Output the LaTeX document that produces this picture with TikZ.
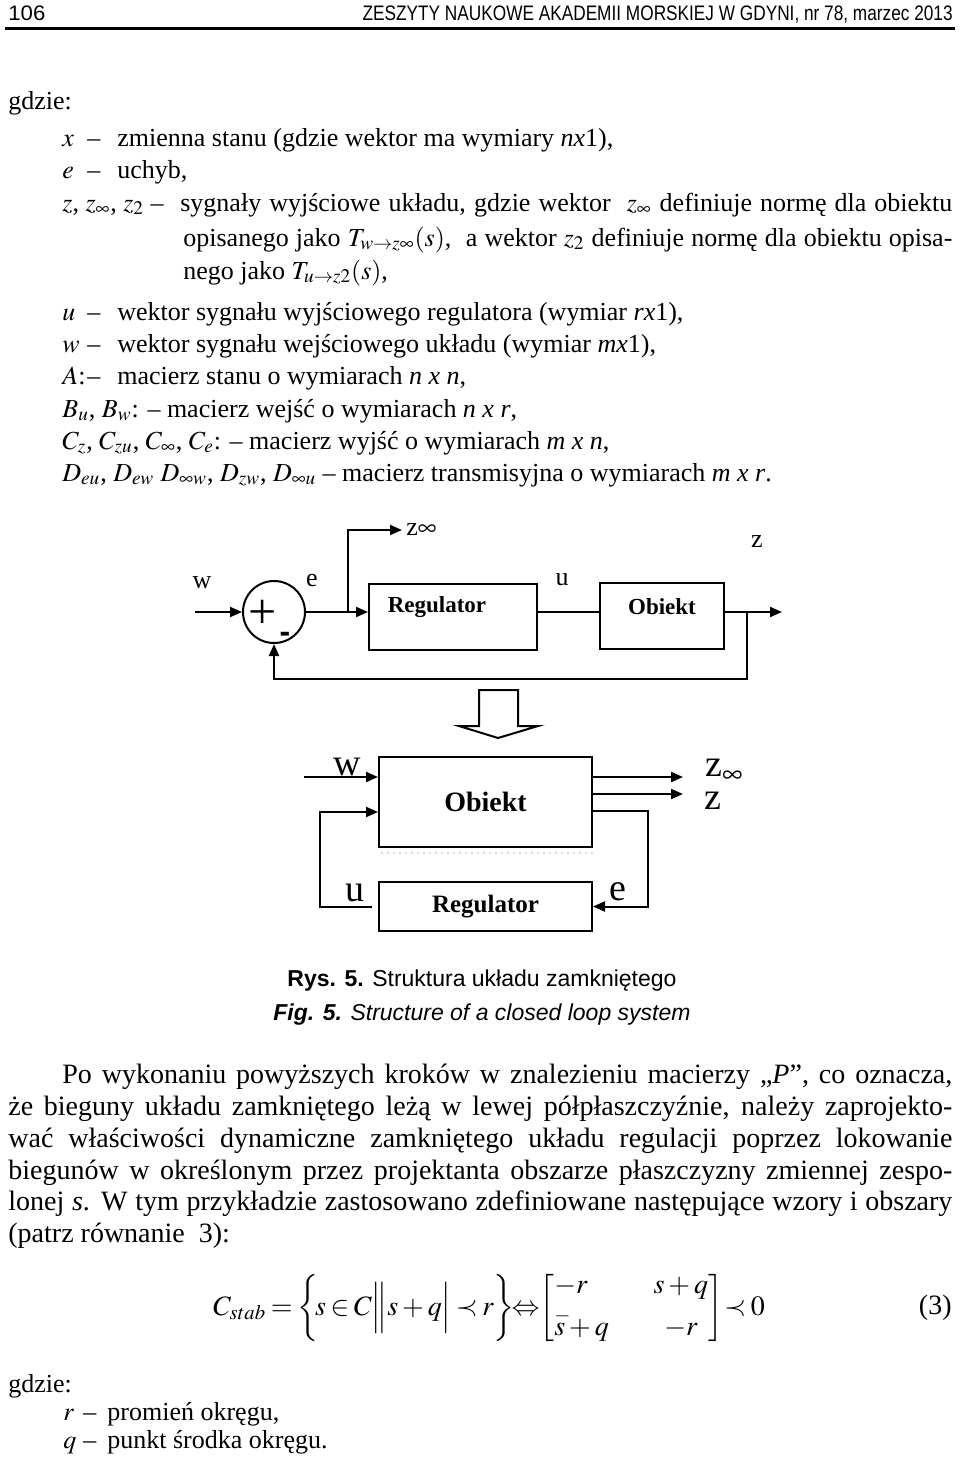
\documentclass[tikz,border=0pt]{standalone}
\usepackage{amsmath}
\usepackage{mathptmx}
\usepackage{fontspec}
\setmainfont{Liberation Serif}
\setsansfont{Liberation Sans}
\newfontfamily\hdrfont{Liberation Sans}
\usepackage{graphicx}
\usetikzlibrary{arrows.meta}

\newcommand\listsize{\fontsize{13}{15}\selectfont}
\newcommand\bodysize{\fontsize{14}{16}\selectfont}
\newcommand\itemlab[2]{\makebox[12.5pt][l]{#1}\makebox[15pt][l]{–}#2}
\newcommand\shortlab[2]{\makebox[10pt][l]{#1}\makebox[12pt][l]{–}#2}

\begin{document}
\begin{tikzpicture}[x=0.5pt,y=-0.5pt,
  block/.style={draw,line width=1pt,inner sep=0pt,font=\bfseries\fontsize{14}{16}\selectfont},
  sum node/.style={circle,draw,line width=1pt,minimum size=31pt,inner sep=0pt},
  sigarrow/.style={line width=1pt,-{Triangle[length=6pt,width=5pt]}},
  wire/.style={line width=1pt},
  sig label/.style={inner sep=0pt,font=\fontsize{13}{15}\selectfont},
  big label/.style={inner sep=0pt,font=\fontsize{19}{21}\selectfont},
  box text/.style={inner sep=0pt,font=\bfseries\fontsize{11.5}{13}\selectfont},
  list line/.style={anchor=base west,inner sep=0pt,font=\listsize},
  body line/.style={anchor=base west,inner sep=0pt,font=\bodysize},
  caption line/.style={anchor=base,inner sep=0pt,font=\sffamily\fontsize{11.5}{13}\selectfont}]

  \useasboundingbox (0,0) rectangle (960,1457);

  % header
  \node[anchor=base west,inner sep=0pt] (pagenum) at (8,20)
    {\resizebox{18.5pt}{\height}{\hdrfont\fontsize{10.5}{12}\selectfont 106}};
  \node[anchor=base east,inner sep=0pt] (journal) at (953,20)
    {\resizebox{295pt}{\height}{\hdrfont\fontsize{10.5}{12}\selectfont ZESZYTY NAUKOWE AKADEMII MORSKIEJ W GDYNI, nr 78, marzec 2013}};
  \draw[line width=1.5pt] (5,28) -- (955,28);

  % list of symbols
  \node[list line] (gdzie) at (8,109) {gdzie:};
  \node[list line] (defx) at (62,146) {\itemlab{$x$}{zmienna stanu (gdzie wektor ma wymiary \textit{nx}1),}};
  \node[list line] (defe) at (62,178) {\itemlab{$e$}{uchyb,}};
  \node[list line] (defz) at (62,211) {\makebox[59pt][l]{$z$, $z_{\infty}$, $z_2$ –}\makebox[386pt][s]{sygnały wyjściowe układu, gdzie wektor \ $z_{\infty}$ definiuje normę dla obiektu}};
  \node[list line] (defz2) at (183,246) {\makebox[384.5pt][s]{opisanego jako $T_{w\rightarrow z\infty}(s)$, \ a wektor $z_2$ definiuje normę dla obiektu opisa-}};
  \node[list line] (defz3) at (183,279) {nego jako $T_{u\rightarrow z2}(s)$,};
  \node[list line] (defu) at (62,320) {\itemlab{$u$}{wektor sygnału wyjściowego regulatora (wymiar \textit{rx}1),}};
  \node[list line] (defw) at (62,352) {\itemlab{$w$}{wektor sygnału wejściowego układu (wymiar \textit{mx}1),}};
  \node[list line] (defA) at (62,384) {\itemlab{$A$:}{macierz stanu o wymiarach \textit{n x n},}};
  \node[list line] (defB) at (62,417) {$B_u$, $B_w$: – macierz wejść o wymiarach \textit{n x r},};
  \node[list line] (defC) at (62,449) {$C_z$, $C_{zu}$, $C_{\infty}$, $C_e$: – macierz wyjść o wymiarach \textit{m x n},};
  \node[list line] (defD) at (62,481) {$D_{eu}$, $D_{ew}$ $D_{\infty w}$, $D_{zw}$, $D_{\infty u}$ – macierz transmisyjna o wymiarach \textit{m x r}.};

  % closed loop
  \node[sum node] (sum) at (274,612) {};
  \node[inner sep=0pt,font=\fontsize{25}{25}\selectfont] (plus) at (263,614) {+};
  \node[inner sep=0pt,font=\sffamily\bfseries\fontsize{16}{16}\selectfont] (minus) at (285,637) {-};
  \node[block,minimum width=84pt,minimum height=33pt] (reg) at (453,617) {};
  \node[box text] (regtxt) at (437,607) {Regulator};
  \node[block,minimum width=62pt,minimum height=33pt] (obj) at (662,616) {};
  \node[box text] (objtxt) at (662,607) {Obiekt};
  \coordinate (win) at (195,612);
  \coordinate (zbr) at (348,530);
  \coordinate (zout) at (782,612);
  \coordinate (fb) at (747,679);
  \node[sig label,anchor=west] (zinf) at (406,530) {z$\infty$};
  \node[sig label] (wlab) at (202,583) {w};
  \node[sig label] (elab) at (312,580) {e};
  \node[sig label] (ulab) at (562,580) {u};
  \node[sig label] (zlab) at (757,542) {z};

  \draw[sigarrow] (win) -- (sum.west);
  \draw[sigarrow] (sum.east) -- (sum.east -| reg.west);
  \draw[sigarrow] (sum.east -| zbr) |- ([xshift=-2pt]zinf.west);
  \draw[wire] (reg.east |- sum.east) -- (obj.west |- sum.east);
  \draw[sigarrow] (obj.east |- sum.east) -- (zout);
  \draw[sigarrow] (fb |- sum.east) -- (fb) -| (sum.south);

  % hollow arrow
  \draw[line width=1pt] (479,690) -- (479,726) -- (459,726) -- (498,738)
    -- (538,726) -- (518,726) -- (518,690) -- cycle;

  % equivalent structure
  \node[block,minimum width=106.5pt,minimum height=45pt] (obj2) at (485.5,802) {Obiekt};
  \node[block,minimum width=106.5pt,minimum height=24.5pt,font=\bfseries\fontsize{12.5}{14}\selectfont] (reg2) at (485.5,906.5) {Regulator};
  \draw[gray!30,dotted,line width=1pt] (381,853) -- (595,853);
  \coordinate (w2) at (304,777);
  \coordinate (ucor) at (320,812);
  \coordinate (zinf2) at (683,777);
  \coordinate (z2) at (683,794);
  \coordinate (ecor) at (648,811);
  \node[big label] (wlab2) at (347,767) {w};
  \node[big label] (ulab2) at (355,893) {u};
  \node[big label,anchor=west] (zinflab2) at (705,771) {z$_{\infty}$};
  \node[big label] (zlab2) at (713,801) {z};
  \node[big label] (elab2) at (618,892) {e};

  \draw[sigarrow] (w2) -- (w2 -| obj2.west);
  \draw[sigarrow] ([xshift=-3pt]reg2.west) -| (ucor) -- (ucor -| obj2.west);
  \draw[sigarrow] (zinf2 -| obj2.east) -- (zinf2);
  \draw[sigarrow] (z2 -| obj2.east) -- (z2);
  \draw[sigarrow] (ecor -| obj2.east) -- (ecor) |- (reg2.east);

  % caption
  \node[caption line] (rys) at (482,986) {\textbf{Rys. 5.} Struktura układu zamkniętego};
  \node[caption line] (fig) at (482,1020) {\textbf{\textit{Fig. 5.}} \textit{Structure of a closed loop system}};

  % paragraph
  \node[body line] (par1) at (62,1083) {\makebox[445pt][s]{Po wykonaniu powyższych kroków w znalezieniu macierzy „\textit{P}”, co oznacza,}};
  \node[body line] (par2) at (8,1115) {\makebox[472pt][s]{że bieguny układu zamkniętego leżą w lewej półpłaszczyźnie, należy zaprojekto-}};
  \node[body line] (par3) at (8,1147) {\makebox[472pt][s]{wać właściwości dynamiczne zamkniętego układu regulacji poprzez lokowanie}};
  \node[body line] (par4) at (8,1179) {\makebox[472pt][s]{biegunów w określonym przez projektanta obszarze płaszczyzny zmiennej zespo-}};
  \node[body line] (par5) at (8,1210) {\makebox[472pt][s]{lonej \textit{s}. W tym przykładzie zastosowano zdefiniowane następujące wzory i obszary}};
  \node[body line] (par6) at (8,1242) {(patrz równanie \ 3):};

  % equation
  \node[inner sep=0pt,font=\bodysize] (eq) at (489,1308)
    {\thickmuskip=3mu\medmuskip=2.5mu
     $\displaystyle C_{stab}=\biggl\{\!s\in C\Big\|s+q\Big|\prec r\biggr\}\!{\Leftrightarrow}\!
      \left[\begin{array}{@{}l@{\hspace{1.6em}}c@{}}
        -r & s+q\\[-2pt]
        \scriptstyle - & \\[-9pt]
        s+q & -r
      \end{array}\right]\!\prec 0$};
  \node[body line,anchor=base east] (eqno) at (952,1314) {(3)};

  % second list
  \node[list line] (gdzie2) at (8,1392) {gdzie:};
  \node[list line] (defr) at (63,1420) {\shortlab{$r$}{promień okręgu,}};
  \node[list line] (defq) at (63,1448) {\shortlab{$q$}{punkt środka okręgu.}};
\end{tikzpicture}
\end{document}
